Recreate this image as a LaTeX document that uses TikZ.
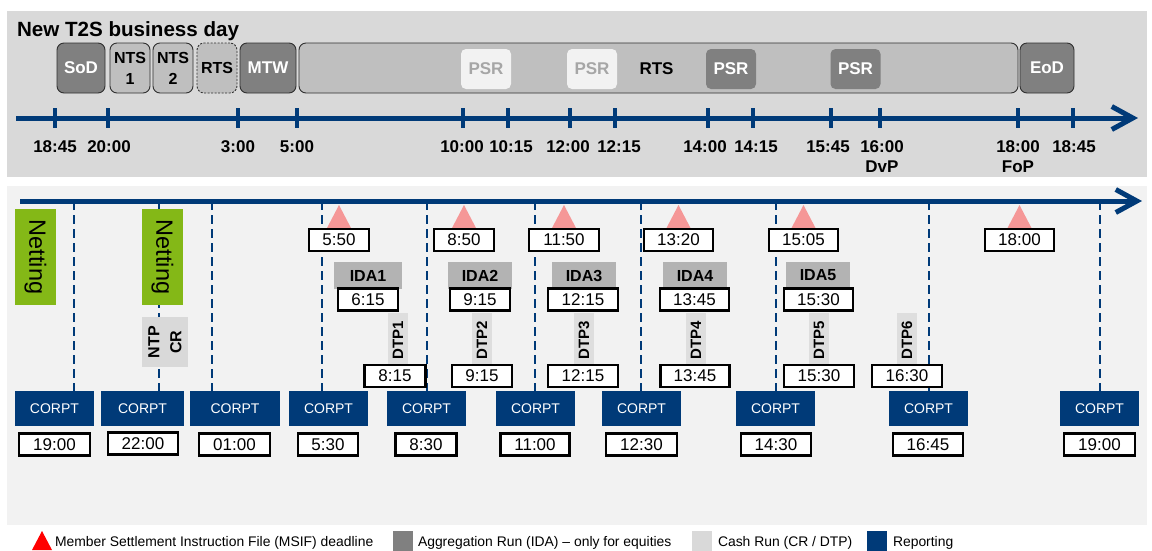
\documentclass[tikz,border=0pt]{standalone}
\usepackage{fontspec}
\setmainfont{Liberation Sans}
\usetikzlibrary{arrows.meta}
\definecolor{tsblue}{HTML}{003A78}
\definecolor{panelA}{HTML}{D9D9D9}
\definecolor{panelB}{HTML}{F2F2F2}
\definecolor{dgrey}{HTML}{808080}
\definecolor{lgrey}{HTML}{BFBFBF}
\definecolor{bgrey}{HTML}{303030}
\definecolor{psrlight}{HTML}{F2F2F2}
\definecolor{psrtext}{HTML}{A6A6A6}
\definecolor{netgreen}{HTML}{84B817}
\definecolor{idagrey}{HTML}{B3B3B3}
\definecolor{dtpgrey}{HTML}{DEDEDE}
\definecolor{ntpgrey}{HTML}{D9D9D9}
\definecolor{msifpink}{HTML}{F59797}
\definecolor{legred}{HTML}{FF0000}
\newcommand\fsz[2]{\fontsize{#1}{#2}\selectfont}
\begin{document}
\begin{tikzpicture}[x=1pt,y=-1pt,
  every node/.style={inner sep=0pt,outer sep=0pt},
  phasebox/.style={rounded corners=7pt, draw=bgrey, line width=0.9pt, minimum height=50pt, align=center},
  darkphase/.style={phasebox, fill=dgrey, text=white, font=\bfseries\fsz{17}{20}},
  lightphase/.style={phasebox, fill=lgrey, text=black, font=\bfseries\fsz{16}{21}},
  psrbox/.style={rounded corners=5pt, minimum width=50pt, minimum height=40pt, font=\bfseries\fsz{17}{20}},
  psrlite/.style={psrbox, fill=psrlight, text=psrtext},
  psrdark/.style={psrbox, fill=dgrey, text=white},
  tlabel/.style={anchor=base, font=\bfseries\fsz{17}{20}},
  tickmark/.style={draw=tsblue, line width=4pt},
  axis/.style={draw=tsblue, line width=5pt, -{Straight Barb[length=21pt,width=23pt]}},
  dashline/.style={draw=tsblue, line width=2.5pt, dash pattern=on 9pt off 5pt},
  timebox/.style={draw=black, line width=2.3pt, fill=white, minimum height=22pt, font=\fsz{17}{19}},
  corpt/.style={fill=tsblue, text=white, minimum height=35pt, font=\fsz{14}{16}},
  netting/.style={fill=netgreen, rotate=-90, minimum width=96pt, minimum height=41pt, font=\fsz{23.5}{25}},
  ntpbox/.style={fill=ntpgrey, rotate=90, minimum width=50pt, minimum height=46pt, align=center, font=\bfseries\fsz{16}{22}},
  idabox/.style={fill=idagrey, minimum height=27pt, font=\bfseries\fsz{16}{18}},
  dtpbox/.style={fill=dtpgrey, rotate=90, minimum width=54pt, minimum height=20pt, font=\bfseries\fsz{15}{17}},
  legtext/.style={anchor=base west, font=\fsz{13.9}{15}},
  legsq/.style={minimum width=20pt, minimum height=20pt}
]
\useasboundingbox (0,0) rectangle (1152,550);
% panels
\fill[panelA] (7,11) rectangle (1147,177);
\fill[panelB] (7,186) rectangle (1147,525);

% ---------------- top panel ----------------
\node[anchor=base west, font=\bfseries\fsz{20.6}{22}] (title) at (17,36) {New T2S business day};

\node[darkphase, minimum width=48pt] (sod) at (81,68) {SoD};
\node[lightphase, minimum width=40pt] (nts1) at (130,68) {NTS\\1};
\node[lightphase, minimum width=40pt] (nts2) at (173,68) {NTS\\2};
\node[lightphase, minimum width=40pt, dashed, dash pattern=on 2pt off 1.5pt] (rtsn) at (217,68) {RTS};
\node[darkphase, minimum width=56pt] (mtw) at (268,68) {MTW};
\node[lightphase, minimum width=719pt] (rts) at (658.5,68) {};
\node[font=\bfseries\fsz{17}{20}] (rtslab) at (656.5,69) {RTS};
\node[psrlite] (psr1) at (486,69) {PSR};
\node[psrlite] (psr2) at (592,69) {PSR};
\node[psrdark] (psr3) at (731,69) {PSR};
\node[psrdark] (psr4) at (855.5,69) {PSR};
\node[darkphase, minimum width=54pt] (eod) at (1047,68) {EoD};

% top axis
\coordinate (ta0) at (16,118);
\coordinate (ta1) at (1138,118);
\draw[axis] (ta0) -- (ta1);
\foreach \x in {55,108,238,297,463,508,570,615,708,753,831,880,1018,1073}
  \draw[tickmark] (\x,108) -- (\x,128);
\foreach \x/\lab/\nm in {55/18:45/l1,109/20:00/l2,238/3:00/l3,297/5:00/l4,462/10:00/l5,511/10:15/l6,568/12:00/l7,619/12:15/l8,705/14:00/l9,756/14:15/l10,828/15:45/l11,882/16:00/l12,1018/18:00/l13,1074/18:45/l14}
  \node[tlabel] (\nm) at (\x,152.5) {\lab};
\node[tlabel] (dvp) at (882,172.5) {DvP};
\node[tlabel] (fop) at (1018,172.5) {FoP};

% ---------------- bottom panel ----------------
\coordinate (ba0) at (20,201);
\coordinate (ba1) at (1142,201);

% CORPT boxes
\node[corpt, minimum width=79pt] (c1) at (54.5,408.5) {CORPT};
\node[corpt, minimum width=83pt] (c2) at (142.5,408.5) {CORPT};
\node[corpt, minimum width=90pt] (c3) at (235,408.5) {CORPT};
\node[corpt, minimum width=79pt] (c4) at (328.5,408.5) {CORPT};
\node[corpt, minimum width=79pt] (c5) at (426.5,408.5) {CORPT};
\node[corpt, minimum width=79pt] (c6) at (535.5,408.5) {CORPT};
\node[corpt, minimum width=79pt] (c7) at (641.5,408.5) {CORPT};
\node[corpt, minimum width=79pt] (c8) at (775.5,408.5) {CORPT};
\node[corpt, minimum width=79pt] (c9) at (928.5,408.5) {CORPT};
\node[corpt, minimum width=79pt] (c10) at (1099.5,408.5) {CORPT};

% dashed lines from axis to CORPT boxes
\foreach \x/\i in {74/1,159/2,212/3,322/4,427/5,535/6,641/7,776/8,929/9,1100/10}{
  \coordinate (d\i) at (\x,201);
  \draw[dashline] (d\i) -- (d\i |- c\i.north);
}
\draw[axis] (ba0) -- (ba1);

% CORPT times
\node[timebox, minimum width=71pt] (ct1) at (54.5,444.5) {19:00};
\node[timebox, minimum width=70pt] (ct2) at (143,443.5) {22:00};
\node[timebox, minimum width=71pt] (ct3) at (234.5,444.5) {01:00};
\node[timebox, minimum width=60pt] (ct4) at (328,444.5) {5:30};
\node[timebox, minimum width=61pt] (ct5) at (426,444.5) {8:30};
\node[timebox, minimum width=69pt] (ct6) at (535,444.5) {11:00};
\node[timebox, minimum width=71pt] (ct7) at (641.5,444.5) {12:30};
\node[timebox, minimum width=70pt] (ct8) at (776,444.5) {14:30};
\node[timebox, minimum width=70pt] (ct9) at (928,444.5) {16:45};
\node[timebox, minimum width=71pt] (ct10) at (1099.5,444.5) {19:00};

% Netting and NTP CR
\node[netting] (net1) at (35.5,257) {Netting};
\node[netting] (net2) at (162.5,257) {Netting};
\node[ntpbox] (ntp) at (165,342) {NTP\\CR};

% MSIF deadlines
\foreach \x/\w/\lab/\i in {339/60/5:50/1,464/60/8:50/2,564/70/11:50/3,678.5/69/13:20/4,803.5/69/15:05/5,1019.5/69/18:00/6}{
  \coordinate (m\i) at (\x,205);
  \fill[msifpink] (m\i) -- ++(-12,23) -- ++(24,0) -- cycle;
  \node[timebox, minimum width=\w pt] (mt\i) at (\x,240) {\lab};
}

% IDA
\foreach \x/\w/\lab/\i in {368/68/IDA1/1,480/64/IDA2/2,584/64/IDA3/3,695/64/IDA4/4,818/64/IDA5/5}
  \node[idabox, minimum width=\w pt] (ida\i) at (\x,275.5) {\lab};
\foreach \x/\w/\lab/\i in {368/60/6:15/1,480/60/9:15/2,583/70/12:15/3,694.5/69/13:45/4,818.5/69/15:30/5}
  \node[timebox, minimum width=\w pt] (it\i) at (\x,299.5) {\lab};

% DTP
\foreach \x/\i in {398/1,482/2,584/3,696/4,819/5,907/6}
  \node[dtpbox] (dtp\i) at (\x,340) {DTP\i};
\foreach \x/\w/\lab/\i in {395/61/8:15/1,482/60/9:15/2,583/70/12:15/3,695/69/13:45/4,819/70/15:30/5,907/70/16:30/6}
  \node[timebox, minimum width=\w pt] (dt\i) at (\x,376) {\lab};

% ---------------- legend ----------------
\fill[legred] (42,531) -- (52,550) -- (32,550) -- cycle;
\node[legtext] (lg1) at (55,546) {Member Settlement Instruction File (MSIF) deadline};
\node[legsq, fill=dgrey] (sq2) at (402.5,540.5) {};
\node[legtext] (lg2) at (418,546) {Aggregation Run (IDA) – only for equities};
\node[legsq, fill=ntpgrey] (sq3) at (702,540.5) {};
\node[legtext] (lg3) at (718,546) {Cash Run (CR / DTP)};
\node[legsq, fill=tsblue] (sq4) at (877,540.5) {};
\node[legtext] (lg4) at (893,546) {Reporting};
\end{tikzpicture}
\end{document}
